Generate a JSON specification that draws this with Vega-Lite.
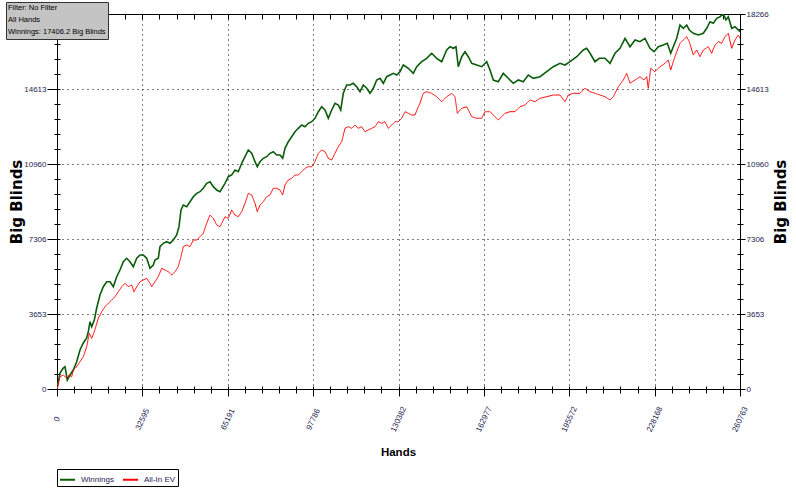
{
  "$schema": "https://vega.github.io/schema/vega-lite/v6.json",
  "width": 683,
  "height": 375,
  "autosize": {"type": "none"},
  "padding": {"left": 57, "top": 14, "right": 56, "bottom": 108},
  "background": "white",
  "config": {"view": {"stroke": "#000", "strokeWidth": 1}, "font": "Liberation Sans"},
  "datasets": {
    "win": [{"h":0,"v":0},{"h":1145,"v":779},{"h":2405,"v":1023},{"h":3054,"v":1086},{"h":3932,"v":438},{"h":4963,"v":682},{"h":6223,"v":925},{"h":7521,"v":1330},{"h":8781,"v":1900},{"h":10041,"v":2241},{"h":11339,"v":2484},{"h":11950,"v":2791},{"h":12599,"v":3278},{"h":13248,"v":3035},{"h":14241,"v":3361},{"h":15157,"v":3945},{"h":16417,"v":4579},{"h":17677,"v":4983},{"h":18975,"v":5226},{"h":20235,"v":5226},{"h":21495,"v":4983},{"h":22793,"v":5470},{"h":24053,"v":5796},{"h":25313,"v":6201},{"h":26611,"v":6366},{"h":27871,"v":6201},{"h":29131,"v":5957},{"h":30429,"v":6366},{"h":31689,"v":6527},{"h":32949,"v":6527},{"h":34247,"v":6366},{"h":35507,"v":5879},{"h":36767,"v":6040},{"h":37415,"v":6283},{"h":38675,"v":6366},{"h":39324,"v":6931},{"h":40584,"v":7097},{"h":41882,"v":7175},{"h":43142,"v":7097},{"h":44402,"v":7258},{"h":45700,"v":7501},{"h":46578,"v":7905},{"h":47342,"v":8719},{"h":48220,"v":8962},{"h":49518,"v":8880},{"h":50778,"v":9123},{"h":52038,"v":9367},{"h":53336,"v":9532},{"h":54596,"v":9610},{"h":55856,"v":9776},{"h":57154,"v":10019},{"h":58414,"v":10097},{"h":59674,"v":9854},{"h":60972,"v":9693},{"h":62232,"v":9610},{"h":64141,"v":10019},{"h":65401,"v":10341},{"h":66699,"v":10424},{"h":67959,"v":10667},{"h":69219,"v":10584},{"h":70517,"v":10994},{"h":71777,"v":11315},{"h":73037,"v":11641},{"h":74335,"v":11481},{"h":75595,"v":11072},{"h":76473,"v":10828},{"h":77503,"v":11072},{"h":78763,"v":11237},{"h":80061,"v":11315},{"h":81321,"v":11481},{"h":82581,"v":11559},{"h":83879,"v":11398},{"h":85139,"v":11398},{"h":86170,"v":11237},{"h":87048,"v":11724},{"h":88308,"v":12046},{"h":89606,"v":12289},{"h":90866,"v":12533},{"h":92126,"v":12698},{"h":93424,"v":12859},{"h":94684,"v":12776},{"h":95944,"v":12942},{"h":97242,"v":13020},{"h":98502,"v":13186},{"h":99762,"v":13507},{"h":101060,"v":13750},{"h":102320,"v":13590},{"h":103580,"v":13186},{"h":104878,"v":13590},{"h":106138,"v":13916},{"h":107398,"v":13833},{"h":108316,"v":13590},{"h":109307,"v":14403},{"h":110605,"v":14808},{"h":111865,"v":14808},{"h":113125,"v":14890},{"h":114424,"v":14725},{"h":115684,"v":14481},{"h":116944,"v":14808},{"h":118242,"v":14647},{"h":119500,"v":14403},{"h":120760,"v":14647},{"h":122060,"v":15051},{"h":123320,"v":15134},{"h":124580,"v":14890},{"h":125880,"v":15212},{"h":127140,"v":15295},{"h":128400,"v":15377},{"h":129690,"v":15295},{"h":130950,"v":15456},{"h":132220,"v":15782},{"h":134125,"v":15621},{"h":136030,"v":15377},{"h":137330,"v":15699},{"h":139240,"v":15943},{"h":141150,"v":16108},{"h":143060,"v":16352},{"h":144960,"v":16108},{"h":146870,"v":15943},{"h":148780,"v":16512},{"h":150040,"v":16673},{"h":151310,"v":16595},{"h":152330,"v":16673},{"h":153210,"v":15699},{"h":154510,"v":16186},{"h":155770,"v":16429},{"h":157030,"v":16186},{"h":158330,"v":15864},{"h":160240,"v":15782},{"h":162150,"v":15699},{"h":164060,"v":15943},{"h":165320,"v":15538},{"h":166580,"v":15051},{"h":168490,"v":14968},{"h":170390,"v":15377},{"h":172300,"v":15134},{"h":174210,"v":14890},{"h":176120,"v":15051},{"h":178030,"v":14968},{"h":179940,"v":15295},{"h":181850,"v":15134},{"h":184410,"v":15212},{"h":186960,"v":15456},{"h":189480,"v":15699},{"h":192040,"v":15864},{"h":193950,"v":15782},{"h":195860,"v":15943},{"h":198420,"v":16186},{"h":200940,"v":16512},{"h":202230,"v":16595},{"h":203500,"v":16352},{"h":205400,"v":15943},{"h":207050,"v":16108},{"h":209220,"v":16108},{"h":211130,"v":15864},{"h":213040,"v":16352},{"h":214950,"v":16595},{"h":216860,"v":17082},{"h":218770,"v":16673},{"h":220680,"v":17000},{"h":222580,"v":16917},{"h":224490,"v":17082},{"h":226400,"v":16595},{"h":227930,"v":16429},{"h":229570,"v":16673},{"h":231480,"v":16756},{"h":233010,"v":16839},{"h":234310,"v":16352},{"h":235300,"v":16673},{"h":236600,"v":17082},{"h":237850,"v":17730},{"h":239120,"v":17569},{"h":240410,"v":17730},{"h":241410,"v":17487},{"h":242940,"v":17326},{"h":244840,"v":17243},{"h":246750,"v":17326},{"h":248050,"v":17569},{"h":249310,"v":17891},{"h":250570,"v":17813},{"h":251870,"v":18056},{"h":253130,"v":18134},{"h":254390,"v":18266},{"h":255420,"v":17974},{"h":256300,"v":18134},{"h":257590,"v":17569},{"h":258860,"v":17647},{"h":260763,"v":17406}],
    "ev": [{"h":0,"v":0},{"h":1145,"v":599},{"h":2405,"v":682},{"h":3703,"v":521},{"h":4581,"v":682},{"h":5612,"v":599},{"h":6223,"v":925},{"h":7521,"v":1086},{"h":8781,"v":1330},{"h":10041,"v":1573},{"h":11339,"v":2060},{"h":12332,"v":2713},{"h":13248,"v":2470},{"h":14241,"v":2791},{"h":15768,"v":3444},{"h":17066,"v":3765},{"h":18326,"v":4009},{"h":19586,"v":4174},{"h":20884,"v":4335},{"h":22144,"v":4496},{"h":23404,"v":4739},{"h":24702,"v":4983},{"h":25962,"v":5148},{"h":27222,"v":4983},{"h":28520,"v":5066},{"h":29398,"v":4739},{"h":30429,"v":4983},{"h":31689,"v":5226},{"h":32949,"v":5309},{"h":34247,"v":5392},{"h":35507,"v":5148},{"h":36156,"v":4983},{"h":37415,"v":5226},{"h":38675,"v":5470},{"h":39973,"v":5879},{"h":41233,"v":5796},{"h":42493,"v":5714},{"h":43791,"v":5553},{"h":45051,"v":5714},{"h":46311,"v":5957},{"h":47342,"v":6444},{"h":48220,"v":6931},{"h":49518,"v":7014},{"h":50778,"v":6931},{"h":52038,"v":7258},{"h":53336,"v":7258},{"h":54596,"v":7418},{"h":55856,"v":7584},{"h":57154,"v":8071},{"h":58414,"v":8475},{"h":59674,"v":8315},{"h":60972,"v":7988},{"h":62232,"v":7905},{"h":64141,"v":8393},{"h":65401,"v":8315},{"h":66699,"v":8719},{"h":67959,"v":8475},{"h":69219,"v":8393},{"h":70517,"v":8636},{"h":71777,"v":9045},{"h":73037,"v":9532},{"h":74335,"v":9450},{"h":75595,"v":9045},{"h":76473,"v":8636},{"h":77503,"v":8962},{"h":78763,"v":9123},{"h":80061,"v":9367},{"h":81321,"v":9450},{"h":82581,"v":9776},{"h":83879,"v":9776},{"h":85139,"v":9693},{"h":86170,"v":9450},{"h":87048,"v":9937},{"h":88308,"v":10180},{"h":89606,"v":10263},{"h":90866,"v":10424},{"h":92126,"v":10424},{"h":93424,"v":10584},{"h":94684,"v":10750},{"h":95944,"v":10828},{"h":97242,"v":10828},{"h":98502,"v":11072},{"h":99762,"v":11481},{"h":101060,"v":11641},{"h":102320,"v":11559},{"h":103580,"v":11237},{"h":104878,"v":11154},{"h":106138,"v":11481},{"h":107398,"v":11802},{"h":108700,"v":12046},{"h":109960,"v":12698},{"h":111220,"v":12776},{"h":112510,"v":12698},{"h":113770,"v":12859},{"h":115030,"v":12698},{"h":116330,"v":12776},{"h":117590,"v":12533},{"h":118850,"v":12616},{"h":120150,"v":12698},{"h":121410,"v":12776},{"h":122670,"v":13020},{"h":123970,"v":12942},{"h":125230,"v":13020},{"h":126490,"v":12698},{"h":127790,"v":12859},{"h":129050,"v":13020},{"h":130310,"v":13020},{"h":131600,"v":13186},{"h":132860,"v":13507},{"h":134125,"v":13429},{"h":135420,"v":13346},{"h":136680,"v":13346},{"h":137940,"v":13750},{"h":138590,"v":13916},{"h":139850,"v":14403},{"h":141150,"v":14481},{"h":143060,"v":14403},{"h":144960,"v":14238},{"h":146870,"v":13994},{"h":148780,"v":14238},{"h":150690,"v":14403},{"h":151950,"v":14238},{"h":152830,"v":13429},{"h":154510,"v":13673},{"h":156420,"v":13750},{"h":158330,"v":13264},{"h":160240,"v":13186},{"h":162150,"v":13186},{"h":163410,"v":13507},{"h":165320,"v":13507},{"h":167220,"v":13264},{"h":168490,"v":13103},{"h":171040,"v":13429},{"h":172950,"v":13507},{"h":174860,"v":13507},{"h":176770,"v":13750},{"h":178680,"v":13833},{"h":180580,"v":14077},{"h":182490,"v":13994},{"h":184400,"v":14160},{"h":186960,"v":14238},{"h":189480,"v":14320},{"h":192040,"v":14320},{"h":193950,"v":13994},{"h":195210,"v":14320},{"h":197120,"v":14403},{"h":199670,"v":14403},{"h":201580,"v":14647},{"h":203500,"v":14481},{"h":205400,"v":14403},{"h":207310,"v":14320},{"h":209220,"v":14238},{"h":211130,"v":14077},{"h":212400,"v":14238},{"h":214310,"v":14725},{"h":216220,"v":15051},{"h":217510,"v":15377},{"h":218770,"v":14890},{"h":220680,"v":15051},{"h":222580,"v":15212},{"h":224110,"v":15051},{"h":225140,"v":15212},{"h":225750,"v":14647},{"h":226670,"v":15621},{"h":228310,"v":15456},{"h":230220,"v":15699},{"h":232120,"v":15864},{"h":233390,"v":16025},{"h":234310,"v":15538},{"h":235300,"v":15943},{"h":236600,"v":16429},{"h":237850,"v":16839},{"h":239120,"v":17000},{"h":240410,"v":17161},{"h":241410,"v":16917},{"h":242940,"v":16269},{"h":244230,"v":16512},{"h":245490,"v":16186},{"h":246750,"v":16512},{"h":248660,"v":16673},{"h":249950,"v":16352},{"h":251220,"v":16756},{"h":252480,"v":16917},{"h":253770,"v":16839},{"h":255030,"v":17161},{"h":256300,"v":17326},{"h":257590,"v":16595},{"h":258860,"v":17000},{"h":260120,"v":17243},{"h":260763,"v":17082}]
  },
  "resolve": {"scale": {"x": "independent", "y": "independent"}},
  "layer": [
    {
      "data": {"name": "win"},
      "mark": {"type": "line", "strokeWidth": 1.6, "clip": true},
      "encoding": {
        "x": {
          "field": "h", "type": "quantitative",
          "scale": {"domain": [0, 260763], "nice": false, "zero": false},
          "axis": {
            "orient": "bottom",
            "values": [0,6519.075,13038.15,19557.225,26076.3,32595.375,39114.45,45633.525,52152.6,58671.675,65190.75,71709.825,78228.9,84747.975,91267.05,97786.125,104305.2,110824.275,117343.35,123862.425,130381.5,136900.575,143419.65,149938.725,156457.8,162976.875,169495.95,176015.025,182534.1,189053.175,195572.25,202091.325,208610.4,215129.475,221648.55,228167.625,234686.7,241205.775,247724.85,254243.925,260763],
            "format": "d",
            "labelExpr": "abs(datum.value/32595.375 - round(datum.value/32595.375)) < 0.001 ? datum.label : ''",
            "offset": -3,
            "domain": false,
            "tickColor": "#000",
            "tickSize": {"condition": {"test": "abs(datum.value/32595.375 - round(datum.value/32595.375)) < 0.001", "value": 10}, "value": 7},
            "grid": true,
            "gridColor": "#000",
            "gridDash": [1, 4],
            "gridOpacity": {"condition": {"test": "abs(datum.value/32595.375 - round(datum.value/32595.375)) < 0.001", "value": 1}, "value": 0},
            "labelAngle": -65,
            "labelAlign": "center",
            "labelBaseline": "middle",
            "labelPadding": 23,
            "labelOverlap": false,
            "labelBound": false,
            "labelFlush": false,
            "labelFont": "Liberation Sans",
            "labelFontSize": 8,
            "labelColor": "#1c1c50",
            "title": "Hands",
            "titleFont": "Liberation Sans",
            "titleFontSize": 11.5,
            "titleFontWeight": "bold",
            "titleColor": "#000",
            "titleX": 341,
            "titleY": 66,
            "titleAlign": "center",
            "titleBaseline": "middle"
          }
        },
        "y": {
          "field": "v", "type": "quantitative",
          "scale": {"domain": [0, 18266], "nice": false, "zero": false},
          "axis": {
            "orient": "left",
            "values": [0,730.64,1461.28,2191.92,2922.56,3653.2,4383.84,5114.48,5845.12,6575.76,7306.4,8037.04,8767.68,9498.32,10228.96,10959.6,11690.24,12420.88,13151.52,13882.16,14612.8,15343.44,16074.08,16804.72,17535.36,18266],
            "format": "d",
            "labelExpr": "datum.value < 18000 && abs(datum.value/3653.2 - round(datum.value/3653.2)) < 0.001 ? datum.label : ''",
            "offset": -3,
            "domain": false,
            "tickColor": "#000",
            "tickSize": {"condition": {"test": "abs(datum.value/3653.2 - round(datum.value/3653.2)) < 0.001", "value": 13}, "value": 6},
            "grid": true,
            "gridColor": "#000",
            "gridDash": [1, 4],
            "gridOpacity": {"condition": {"test": "abs(datum.value/3653.2 - round(datum.value/3653.2)) < 0.001", "value": 1}, "value": 0},
            "labelPadding": 1,
            "labelOverlap": false,
            "labelBound": false,
            "labelFlush": false,
            "labelFont": "Liberation Sans",
            "labelFontSize": 8,
            "labelColor": "#1c1c50",
            "title": "Big Blinds",
            "titleFont": "DejaVu Sans",
            "titleFontSize": 15,
            "titleFontWeight": "bold",
            "titleColor": "#000",
            "titleAngle": 270,
            "titleX": -44,
            "titleY": 187.5,
            "titleAlign": "center",
            "titleBaseline": "middle"
          }
        },
        "color": {
          "datum": "Winnings", "type": "nominal",
          "scale": {"domain": ["Winnings", "All-In EV"], "range": ["#0a5c0a", "#ff0000"]},
          "legend": {
            "orient": "none", "legendX": 0, "legendY": 455,
            "direction": "horizontal", "title": null,
            "strokeColor": "#000", "fillColor": "#fff", "padding": 2,
            "symbolType": "stroke", "symbolSize": 225, "symbolStrokeWidth": 2,
            "labelFont": "Liberation Sans", "labelFontSize": 8, "labelColor": "#1c1c50",
            "columnPadding": 5, "labelOffset": 5
          }
        }
      }
    },
    {
      "data": {"name": "ev"},
      "mark": {"type": "line", "strokeWidth": 1, "clip": true},
      "encoding": {
        "x": {
          "field": "h", "type": "quantitative",
          "scale": {"domain": [0, 260763], "nice": false, "zero": false},
          "axis": {
            "orient": "top",
            "values": [0,6519.075,13038.15,19557.225,26076.3,32595.375,39114.45,45633.525,52152.6,58671.675,65190.75,71709.825,78228.9,84747.975,91267.05,97786.125,104305.2,110824.275,117343.35,123862.425,130381.5,136900.575,143419.65,149938.725,156457.8,162976.875,169495.95,176015.025,182534.1,189053.175,195572.25,202091.325,208610.4,215129.475,221648.55,228167.625,234686.7,241205.775,247724.85,254243.925,260763],
            "labels": false,
            "offset": -5,
            "domain": false,
            "grid": false,
            "tickColor": "#000",
            "tickSize": 5,
            "title": null
          }
        },
        "y": {
          "field": "v", "type": "quantitative",
          "scale": {"domain": [0, 18266], "nice": false, "zero": false},
          "axis": {
            "orient": "right",
            "values": [0,730.64,1461.28,2191.92,2922.56,3653.2,4383.84,5114.48,5845.12,6575.76,7306.4,8037.04,8767.68,9498.32,10228.96,10959.6,11690.24,12420.88,13151.52,13882.16,14612.8,15343.44,16074.08,16804.72,17535.36,18266],
            "format": "d",
            "labelExpr": "abs(datum.value/3653.2 - round(datum.value/3653.2)) < 0.001 ? datum.label : ''",
            "offset": -3,
            "domain": false,
            "grid": false,
            "tickColor": "#000",
            "tickSize": {"condition": {"test": "abs(datum.value/3653.2 - round(datum.value/3653.2)) < 0.001", "value": 8}, "value": 6},
            "labelPadding": 1,
            "labelOverlap": false,
            "labelBound": false,
            "labelFlush": false,
            "labelFont": "Liberation Sans",
            "labelFontSize": 8,
            "labelColor": "#1c1c50",
            "title": "Big Blinds",
            "titleFont": "DejaVu Sans",
            "titleFontSize": 15,
            "titleFontWeight": "bold",
            "titleColor": "#000",
            "titleAngle": 270,
            "titleX": 43,
            "titleY": 187.5,
            "titleAlign": "center",
            "titleBaseline": "middle"
          }
        },
        "color": {"datum": "All-In EV", "type": "nominal"},
        "strokeDash": {
          "datum": "info", "type": "nominal",
          "scale": {"domain": ["info"], "range": [[1, 0]]},
          "legend": {
            "orient": "none", "legendX": -51, "legendY": -12,
            "title": ["Filter: No Filter", "All Hands", "Winnings: 17406.2 Big Blinds"],
            "titleFont": "Liberation Sans", "titleFontSize": 7.5, "titleFontWeight": "normal",
            "titleColor": "#000", "titleLineHeight": 12, "titlePadding": 0,
            "fillColor": "#c4c4c4", "strokeColor": "#333", "padding": 2,
            "symbolOpacity": 0, "symbolSize": 0, "labelExpr": "''", "labelFontSize": 1
          }
        }
      }
    }
  ]
}
